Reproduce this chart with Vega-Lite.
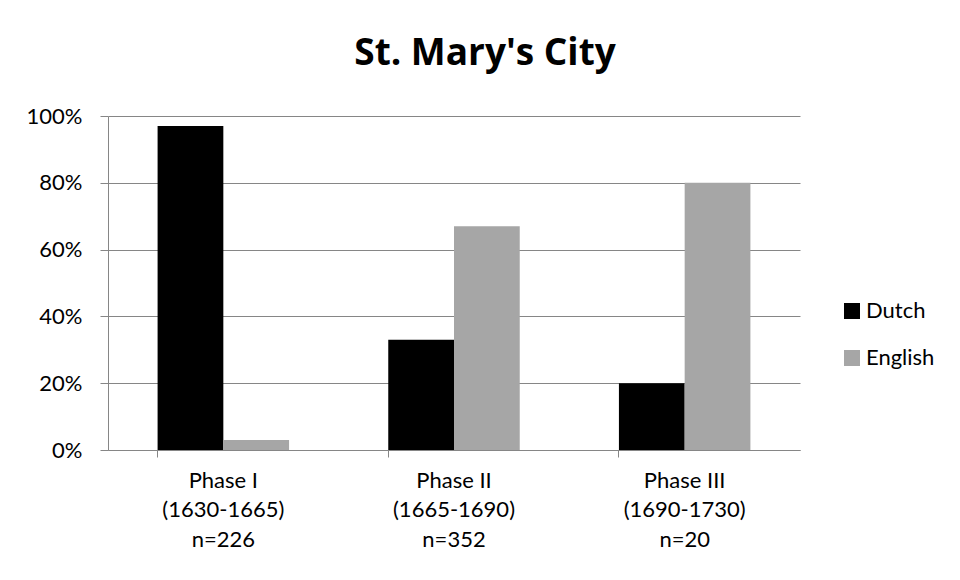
{
  "$schema": "https://vega.github.io/schema/vega-lite/v6.json",
  "width": 692,
  "height": 334,
  "autosize": {"type": "none"},
  "padding": {"left": 108, "top": 116, "right": 160, "bottom": 130},
  "background": "white",
  "config": {
    "font": "Lato",
    "view": {"stroke": null},
    "axis": {"labelFont": "Lato", "labelFontSize": 22, "labelColor": "black"}
  },
  "title": {
    "text": "St. Mary's City",
    "fontSize": 37,
    "fontWeight": "bold",
    "font": "Open Sans",
    "color": "black",
    "anchor": "middle",
    "offset": 32,
    "dx": 31
  },
  "data": {
    "values": [
      {"phase": "Phase I|(1630-1665)|n=226", "series": "Dutch", "value": 0.97},
      {"phase": "Phase I|(1630-1665)|n=226", "series": "English", "value": 0.03},
      {"phase": "Phase II|(1665-1690)|n=352", "series": "Dutch", "value": 0.33},
      {"phase": "Phase II|(1665-1690)|n=352", "series": "English", "value": 0.67},
      {"phase": "Phase III|(1690-1730)|n=20", "series": "Dutch", "value": 0.20},
      {"phase": "Phase III|(1690-1730)|n=20", "series": "English", "value": 0.80}
    ]
  },
  "mark": {"type": "bar"},
  "encoding": {
    "x": {
      "field": "phase",
      "type": "nominal",
      "sort": null,
      "scale": {"paddingInner": 0.43, "paddingOuter": 0.215},
      "axis": {
        "title": null,
        "labelAngle": 0,
        "labelExpr": "split(datum.label, '|')",
        "labelLineHeight": 29.5,
        "labelPadding": 13,
        "bandPosition": 0,
        "ticks": true,
        "tickSize": 7,
        "tickColor": "#868686",
        "domainColor": "#868686",
        "grid": false
      }
    },
    "xOffset": {"field": "series", "type": "nominal", "sort": ["Dutch", "English"]},
    "y": {
      "field": "value",
      "type": "quantitative",
      "scale": {"domain": [0, 1], "nice": false},
      "axis": {
        "title": null,
        "format": ".0%",
        "values": [0, 0.2, 0.4, 0.6, 0.8, 1.0],
        "tickSize": 8,
        "tickColor": "#868686",
        "domainColor": "#868686",
        "gridColor": "#868686",
        "gridWidth": 1,
        "labelPadding": 18
      }
    },
    "color": {
      "field": "series",
      "type": "nominal",
      "scale": {"domain": ["Dutch", "English"], "range": ["#000000", "#a6a6a6"]},
      "legend": {
        "title": null,
        "orient": "none",
        "legendX": 733,
        "legendY": 184,
        "symbolType": "square",
        "symbolSize": 256,
        "symbolStrokeWidth": 0,
        "symbolOpacity": 1,
        "labelFontSize": 22,
        "labelFont": "Lato",
        "labelColor": "black",
        "labelOffset": 3,
        "rowPadding": 25
      }
    }
  }
}
